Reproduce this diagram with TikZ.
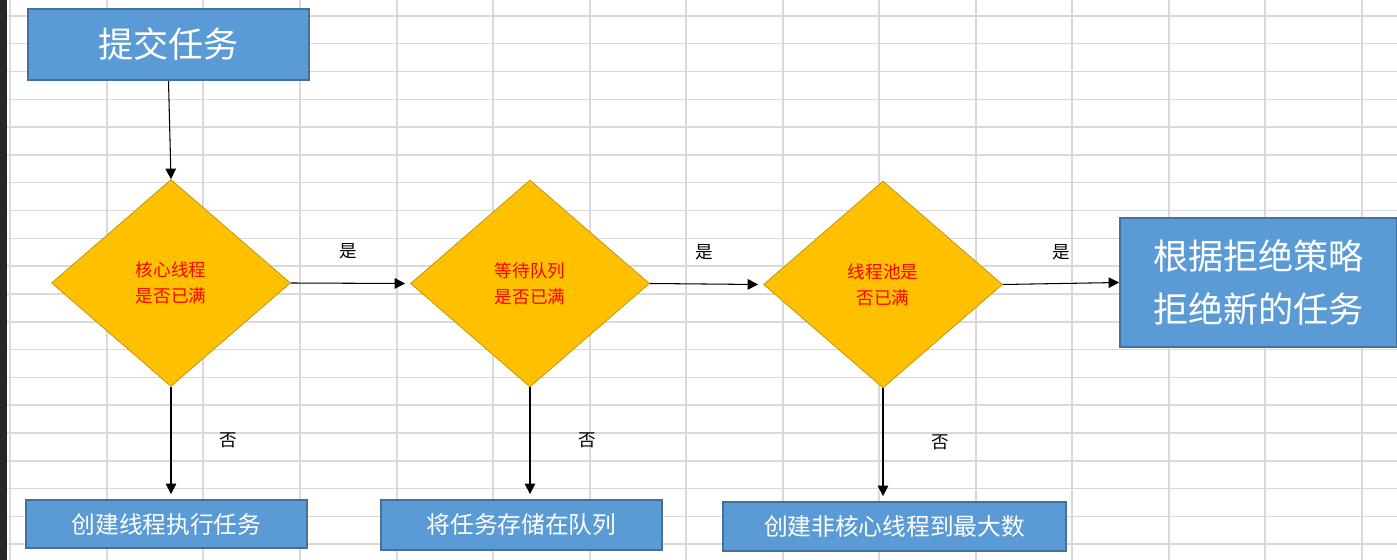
\documentclass[tikz,border=0pt]{standalone}
\usepackage{fontspec}
\setmainfont{Noto Sans CJK SC}
\usetikzlibrary{arrows.meta,shapes.geometric}

\definecolor{boxblue}{HTML}{5B9BD5}
\definecolor{boxedge}{HTML}{41719C}
\definecolor{gold}{HTML}{FFC000}
\definecolor{goldedge}{HTML}{BF9000}
\definecolor{gridgray}{HTML}{D9D9D9}

\tikzset{
  task/.style={draw=boxedge, line width=1pt, fill=boxblue, text=white, inner sep=0pt},
  check/.style={diamond, draw=goldedge, fill=gold, text=red, inner sep=0pt,
    minimum width=4.78cm, minimum height=4.14cm, align=center, font=\fontsize{10}{15}\selectfont},
  flow/.style={-{Triangle[length=6pt,width=6pt]}, line width=0.6pt},
  lbl/.style={font=\fontsize{10}{12}\selectfont}
}

\begin{document}
\begin{tikzpicture}[x=0.02cm, y=-0.02cm]
  % canvas
  \useasboundingbox (0,0) rectangle (1397,560);
  \fill[white] (0,0) rectangle (1397,560);
  \fill[black!85] (0,0) rectangle (7,560);

  % spreadsheet grid
  \foreach \gx in {10,107,203,300,397,493,590,686,783,879,976,1072,1169,1265,1362}
    \draw[gridgray, line width=0.8pt] (\gx,0) -- (\gx,560);
  \foreach \k in {0,...,19}
    \draw[gridgray, line width=0.8pt] (7,16+\k*27.8) -- (1397,16+\k*27.8);

  % boxes
  \node[task, minimum width=5.62cm, minimum height=1.42cm, font=\fontsize{20}{24}\selectfont]
    (submit) at (168.5,44.5) {提交任务};
  \node[task, minimum width=5.54cm, minimum height=2.58cm, align=center,
    font=\fontsize{20}{30}\selectfont] (reject) at (1258.5,282.5) {根据拒绝策略\\拒绝新的任务};
  \node[task, minimum width=5.62cm, minimum height=0.96cm, font=\fontsize{13.5}{16}\selectfont]
    (newcore) at (166.5,524) {创建线程执行任务};
  \node[task, minimum width=5.62cm, minimum height=1.0cm, font=\fontsize{13.5}{16}\selectfont]
    (enqueue) at (521.5,525) {将任务存储在队列};
  \node[task, minimum width=6.86cm, minimum height=0.98cm, font=\fontsize{13.5}{16}\selectfont]
    (newmax) at (894.5,526.5) {创建非核心线程到最大数};

  % decisions
  \node[check] (core) at (171,283) {核心线程\\是否已满};
  \node[check] (queue) at (530,283.5) {等待队列\\是否已满};
  \node[check] (pool) at (883,284.5) {线程池是\\否已满};

  % connectors
  \draw[flow] (submit.south) -- (core.north);
  \draw[flow] (core.east) -- ([xshift=-0.1cm]queue.west) node[lbl, midway, above=10pt] {是};
  \draw[flow] (queue.east) -- ([xshift=-0.1cm]pool.west) node[lbl, midway, above=10pt] {是};
  \draw[flow] (pool.east) -- (reject.west) node[lbl, midway, above=10pt] {是};
  \draw[flow] (core.south) -- ([yshift=0.1cm]newcore.north -| core) node[lbl, midway, right=24pt] {否};
  \draw[flow] (queue.south) -- ([yshift=0.1cm]enqueue.north -| queue) node[lbl, midway, right=24pt] {否};
  \draw[flow] (pool.south) -- ([yshift=0.1cm]newmax.north -| pool) node[lbl, midway, right=24pt] {否};
\end{tikzpicture}
\end{document}
